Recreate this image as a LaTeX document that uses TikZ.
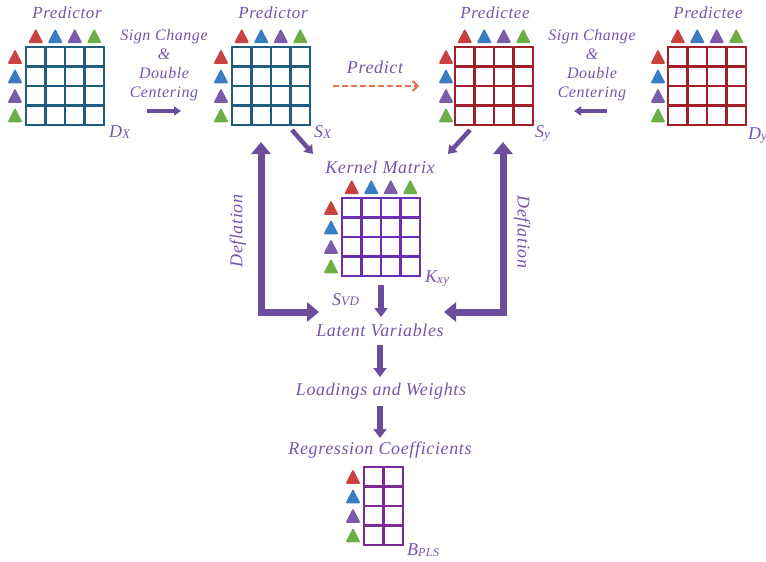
\documentclass[tikz,border=0pt]{standalone}
\usepackage{fontspec}
\setmainfont{Liberation Serif}
\newfontfamily\lblfont[LetterSpace=3.5]{Liberation Serif}
\usetikzlibrary{arrows.meta}
\definecolor{txt}{HTML}{7754AA}
\definecolor{gblue}{HTML}{1F5C7E}
\definecolor{gred}{HTML}{A0202A}
\definecolor{gpurp}{HTML}{6B2FB2}
\definecolor{gmag}{HTML}{7D2A95}
\definecolor{tred}{HTML}{C8433F}
\definecolor{tblue}{HTML}{3B7CC3}
\definecolor{tpurp}{HTML}{7A5CA8}
\definecolor{tgreen}{HTML}{6DAE46}
\definecolor{arr}{HTML}{6A4E9B}
\definecolor{orng}{HTML}{E2734E}
\tikzset{
  lab/.style={text=txt, font=\lblfont\itshape\fontsize{18}{20}\selectfont, inner sep=0pt, anchor=base},
  smlab/.style={text=txt, font=\lblfont\itshape\fontsize{16}{18}\selectfont, inner sep=0pt, anchor=base},
  hlab/.style={text=txt, font=\lblfont\itshape\fontsize{17}{19}\selectfont, inner sep=0pt, anchor=base},
  bigarrow/.style={draw=arr, line width=7pt, {Triangle[width=19pt,length=12pt]}-{Triangle[width=19pt,length=12pt]}},
  midarrow/.style={draw=arr, line width=6pt, -{Triangle[width=13pt,length=9pt]}},
  diagarrow/.style={draw=arr, line width=4.5pt, -{Triangle[width=11pt,length=8pt]}},
  signarrow/.style={draw=arr, line width=3.5pt, -{Triangle[width=9pt,length=7pt]}},
  predarrow/.style={draw=orng, line width=2pt, dash pattern=on 6pt off 3pt, -{Straight Barb[length=5pt,width=10pt]}},
}
\newcommand\mymat[6]{%
  \node[draw=#6, line width=2.7pt, minimum width=#4*19.5pt, minimum height=#5*19.5pt,
        inner sep=0pt, outer sep=0pt, anchor=north west] (#1) at (#2,#3) {};
  \pgfmathtruncatemacro\myncol{#4-1}%
  \pgfmathtruncatemacro\mynrow{#5-1}%
  \foreach \i in {1,...,\myncol} {\draw[#6, line width=2.7pt] (#2+\i*19.5,#3) -- ++(0,#5*19.5);}
  \foreach \j in {1,...,\mynrow} {\draw[#6, line width=2.7pt] (#2,#3+\j*19.5) -- ++(#4*19.5,0);}
}
\newcommand\mytri[3]{\fill[#3, rounded corners=1.2pt] (#1-7.5,#2+7) -- (#1,#2-7.5) -- (#1+7.5,#2+7) -- cycle;}
\newcommand\toptris[2]{%
  \mytri{#1+9.75}{#2-11}{tred}\mytri{#1+29.25}{#2-11}{tblue}%
  \mytri{#1+48.75}{#2-11}{tpurp}\mytri{#1+68.25}{#2-11}{tgreen}}
\newcommand\lefttris[2]{%
  \mytri{#1-11}{#2+9.75}{tred}\mytri{#1-11}{#2+29.25}{tblue}%
  \mytri{#1-11}{#2+48.75}{tpurp}\mytri{#1-11}{#2+68.25}{tgreen}}
\begin{document}
\begin{tikzpicture}[x=1pt,y=-1pt]
\useasboundingbox (0,0) rectangle (766,562);
% matrices
\mymat{dx}{26}{47}{4}{4}{gblue}
\mymat{sx}{232}{47}{4}{4}{gblue}
\mymat{sy}{455}{47}{4}{4}{gred}
\mymat{dy}{668}{47}{4}{4}{gred}
\mymat{kxy}{342}{198}{4}{4}{gpurp}
\mymat{bpls}{364}{467}{2}{4}{gmag}
\toptris{26}{47}\lefttris{26}{47}
\toptris{232}{47}\lefttris{232}{47}
\toptris{455}{47}\lefttris{457}{47}
\toptris{668}{47}\lefttris{669}{47}
\toptris{342}{198}\lefttris{342}{198}
\lefttris{364}{467}
% headings
\node[hlab] (hdx) at (67,19) {Predictor};
\node[hlab] (hsx) at (273,19) {Predictor};
\node[hlab] (hsy) at (495,19) {Predictee};
\node[hlab] (hdy) at (708,19) {Predictee};
% matrix names
\node[lab, anchor=base west] (ldx) at (109,137) {D\raisebox{-1.5pt}{\fontsize{13}{13}\selectfont X}};
\node[lab, anchor=base west] (lsx) at (314,137) {S\raisebox{-1.5pt}{\fontsize{13}{13}\selectfont X}};
\node[lab, anchor=base west] (lsy) at (535,137) {S\raisebox{-1.5pt}{\fontsize{13}{13}\selectfont y}};
\node[lab, anchor=base west] (ldy) at (748,139) {D\raisebox{-1.5pt}{\fontsize{13}{13}\selectfont y}};
\node[lab, anchor=base west] (lkxy) at (425,282) {K\raisebox{-1.5pt}{\fontsize{13}{13}\selectfont xy}};
\node[lab, anchor=base west] (lsvd) at (332,305) {S\raisebox{-0.5pt}{\fontsize{13}{13}\selectfont VD}};
\node[lab, anchor=base west] (lbpls) at (407,555) {B\raisebox{-1.5pt}{\fontsize{12}{12}\selectfont PLS}};
% sign change texts
\node[smlab] (sc1) at (164,40) {Sign Change};
\node[smlab] (am1) at (164,59) {\&};
\node[smlab] (db1) at (164,78) {Double};
\node[smlab] (ce1) at (164,97) {Centering};
\node[smlab] (sc2) at (592,40) {Sign Change};
\node[smlab] (am2) at (592,59) {\&};
\node[smlab] (db2) at (592,78) {Double};
\node[smlab] (ce2) at (592,97) {Centering};
\node[lab] (pred) at (375,73) {Predict};
% central texts
\node[lab] (kern) at (380,173) {Kernel Matrix};
\node[lab] (lat) at (380,336) {Latent Variables};
\node[lab] (load) at (381,395) {Loadings and Weights};
\node[lab] (regr) at (380,454) {Regression Coefficients};
\node[lab, anchor=center, rotate=90] (defl) at (238,231) {Deflation};
\node[lab, anchor=center, rotate=-90] (defr) at (522,232) {Deflation};
% connector end points
\coordinate (sa1) at (147,111); \coordinate (sa2) at (181,111);
\coordinate (sb1) at (607,111); \coordinate (sb2) at (574,111);
\coordinate (pa1) at (333,86); \coordinate (pa2) at (419,86);
\coordinate (dxa) at (292,130); \coordinate (dxb) at (313,154);
\coordinate (dya) at (470,130); \coordinate (dyb) at (448,154);
\coordinate (lt) at (261,142); \coordinate (lc) at (261,312); \coordinate (le) at (319,312);
\coordinate (rt) at (503,142); \coordinate (rc) at (503,312); \coordinate (re) at (444,312);
\coordinate (k1) at (381,285); \coordinate (k2) at (381,317);
\coordinate (l1) at (380,345); \coordinate (l2) at (380,377);
\coordinate (r1) at (380,406); \coordinate (r2) at (380,438);
% connectors
\draw[signarrow] (sa1) -- (sa2);
\draw[signarrow] (sb1) -- (sb2);
\draw[predarrow] (pa1) -- (pa2);
\draw[diagarrow] (dxa) -- (dxb);
\draw[diagarrow] (dya) -- (dyb);
\draw[bigarrow] (lt) -- (lc) -- (le);
\draw[bigarrow] (rt) -- (rc) -- (re);
\draw[midarrow] (k1) -- (k2);
\draw[midarrow] (l1) -- (l2);
\draw[midarrow] (r1) -- (r2);
\end{tikzpicture}
\end{document}
